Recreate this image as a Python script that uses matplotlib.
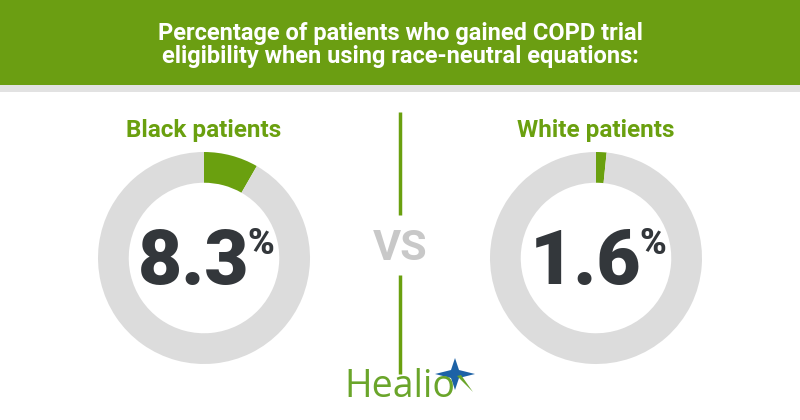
import matplotlib.pyplot as plt
from matplotlib.patches import Rectangle, Polygon

# data
groups = ['Black patients', 'White patients']
gained = [8.3, 1.6]
value_labels = ['8.3', '1.6']
title = 'Percentage of patients who gained COPD trial\neligibility when using race-neutral equations:'

GREEN = '#6aa00f'
RING = '#dcdcdc'
DARK = '#33373b'
VS_GRAY = '#c8c8c8'

W, H = 800, 420
fig = plt.figure(figsize=(8, 4.2), dpi=100, facecolor='white')

# background axes in pixel coords
bg = fig.add_axes([0, 0, 1, 1])
bg.set_xlim(0, W)
bg.set_ylim(H, 0)
bg.axis('off')

bg.add_patch(Rectangle((0, 0), W, 85, color='#6b9e12', lw=0))
bg.add_patch(Rectangle((0, 85), W, 7, color='#e2e2e2', lw=0))
bg.text(W / 2, 45, title, color='white', fontsize=17, fontweight='bold',
        family='Roboto', ha='center', va='center', linespacing=1.05)

# divider + vs
bg.plot([400, 400], [112, 215], color=GREEN, lw=2.5, solid_capstyle='butt')
bg.plot([400, 400], [275, 374], color=GREEN, lw=2.5, solid_capstyle='butt')
bg.text(400, 249, 'VS', color=VS_GRAY, fontsize=31, fontweight='bold',
        family='Roboto', ha='center', va='center')

# donuts
centers = [(204, 258), (596, 258)]
R = 106
for name, val, (cx, cy) in zip(groups, gained, centers):
    ax = fig.add_axes([(cx - R) / W, (H - cy - R) / H, 2 * R / W, 2 * R / H])
    ax.pie([val, 100 - val], colors=[GREEN, RING], startangle=90,
           counterclock=False, radius=1,
           wedgeprops=dict(width=0.29, edgecolor='none'))
    ax.set_xlim(-1, 1)
    ax.set_ylim(-1, 1)
    ax.set_aspect('equal')
    ax.axis('off')

# foreground layer for the numbers
fg = fig.add_axes([0, 0, 1, 1])
fg.set_xlim(0, W)
fg.set_ylim(H, 0)
fg.axis('off')
fg.patch.set_alpha(0)

renderer = fig.canvas.get_renderer()
for name, lab, (cx, cy) in zip(groups, value_labels, centers):
    bg.text(cx, 130, name, color=GREEN, fontsize=17.5, fontweight='bold',
            family='Roboto', ha='center', va='center')
    num = fg.text(0, 284, lab, color=DARK, fontsize=55, fontweight='black',
                  family='Roboto', ha='left', va='baseline')
    pct = fg.text(0, 254, '%', color=DARK, fontsize=26, fontweight='black',
                  family='Roboto', ha='left', va='baseline')
    wn = num.get_window_extent(renderer).width
    wp = pct.get_window_extent(renderer).width
    x0 = cx + 2 - (wn + wp - 2) / 2
    num.set_x(x0)
    pct.set_x(x0 + wn - 2)

# Healio logo
bg.text(344, 397, 'Healio', color='#6aa52a', fontsize=27,
        family='Open Sans', ha='left', va='baseline')
sx, sy = 455, 374
star = [(sx, sy - 16), (sx + 4, sy - 4), (sx + 20, sy), (sx + 4, sy + 4),
        (sx, sy + 16), (sx - 4, sy + 4), (sx - 20, sy), (sx - 4, sy - 4)]
bg.add_patch(Polygon(star, closed=True, color='#1d62a6', lw=0))
bg.add_patch(Polygon([(sx + 2, sy + 2), (sx + 18, sy + 18), (sx + 6, sy + 1)],
                     closed=True, color='#6aa52a', lw=0))

fig.savefig('out.png', dpi=100, facecolor='white')
